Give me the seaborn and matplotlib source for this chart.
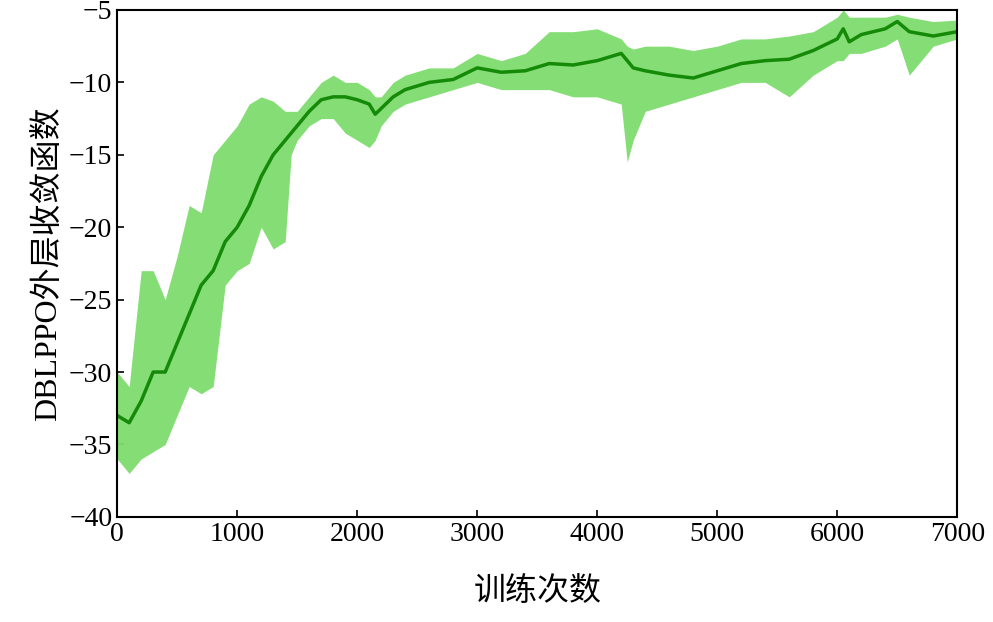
import matplotlib
matplotlib.use("Agg")
import matplotlib.pyplot as plt
import seaborn as sns
import pandas as pd

steps = [0,100,200,300,400,500,600,700,800,900,1000,1100,1200,1300,1400,1450,1500,1600,1700,1800,1900,2000,2100,2150,2200,2300,2400,2600,2800,3000,3200,3400,3600,3800,4000,4200,4250,4300,4400,4600,4800,5000,5200,5400,5600,5800,6000,6050,6100,6200,6400,6500,6600,6800,7000]
mean = [-33,-33.5,-32,-30,-30,-28,-26,-24,-23,-21,-20,-18.5,-16.5,-15,-14,-13.5,-13,-12,-11.2,-11,-11,-11.2,-11.5,-12.2,-11.8,-11,-10.5,-10,-9.8,-9,-9.3,-9.2,-8.7,-8.8,-8.5,-8,-8.5,-9,-9.2,-9.5,-9.7,-9.2,-8.7,-8.5,-8.4,-7.8,-7,-6.3,-7.2,-6.7,-6.3,-5.8,-6.5,-6.8,-6.5]
upper = [-30,-31,-23,-23,-25,-22,-18.5,-19,-15,-14,-13,-11.5,-11,-11.3,-12,-12,-12,-11,-10,-9.5,-10,-10,-10.5,-11,-11,-10,-9.5,-9,-9,-8,-8.5,-8,-6.5,-6.5,-6.3,-7,-7.5,-7.7,-7.5,-7.5,-7.8,-7.5,-7,-7,-6.8,-6.5,-5.5,-5,-5.5,-5.5,-5.5,-5.3,-5.5,-5.8,-5.7]
lower = [-36,-37,-36,-35.5,-35,-33,-31,-31.5,-31,-24,-23,-22.5,-20,-21.5,-21,-15,-14,-13,-12.5,-12.5,-13.5,-14,-14.5,-14,-13,-12,-11.5,-11,-10.5,-10,-10.5,-10.5,-10.5,-11,-11,-11.5,-15.5,-14,-12,-11.5,-11,-10.5,-10,-10,-11,-9.5,-8.5,-8.5,-8,-8,-7.5,-7,-9.5,-7.5,-7]
xticks = [0,1000,2000,3000,4000,5000,6000,7000]
yticks = [-40,-35,-30,-25,-20,-15,-10,-5]

sns.set_style("ticks")
plt.rcParams['font.family'] = ['Liberation Serif', 'Noto Sans CJK SC']
plt.rcParams['text.color'] = 'black'
plt.rcParams['axes.labelcolor'] = 'black'

fig = plt.figure(figsize=(9.93, 6.22), dpi=100)
ax = fig.add_axes([0.118, 0.169, 0.846, 0.815])
df = pd.DataFrame({"x": steps, "m": mean, "lo": lower, "hi": upper})
ax.fill_between(df["x"], df["lo"], df["hi"], color="#7fdc6e", alpha=0.95, linewidth=0)
sns.lineplot(data=df, x="x", y="m", ax=ax, color="#158a08", linewidth=2.5)
ax.set_xlim(0, 7000)
ax.set_ylim(-40, -5)
ax.set_xticks(xticks)
ax.set_yticks(yticks)
ax.set_yticklabels([f"\u2212{abs(v)}" for v in yticks])
ax.tick_params(direction="in", labelsize=20, length=5, width=1.2, colors="black")
for s in ax.spines.values():
    s.set_visible(True); s.set_linewidth(1.5); s.set_color("black")
ax.set_xlabel("训练次数", fontsize=23, labelpad=20, family=['Noto Sans CJK SC'])
ax.set_ylabel("DBLPPO外层收敛函数", fontsize=23, labelpad=4)
fig.savefig("out.png", dpi=100)
